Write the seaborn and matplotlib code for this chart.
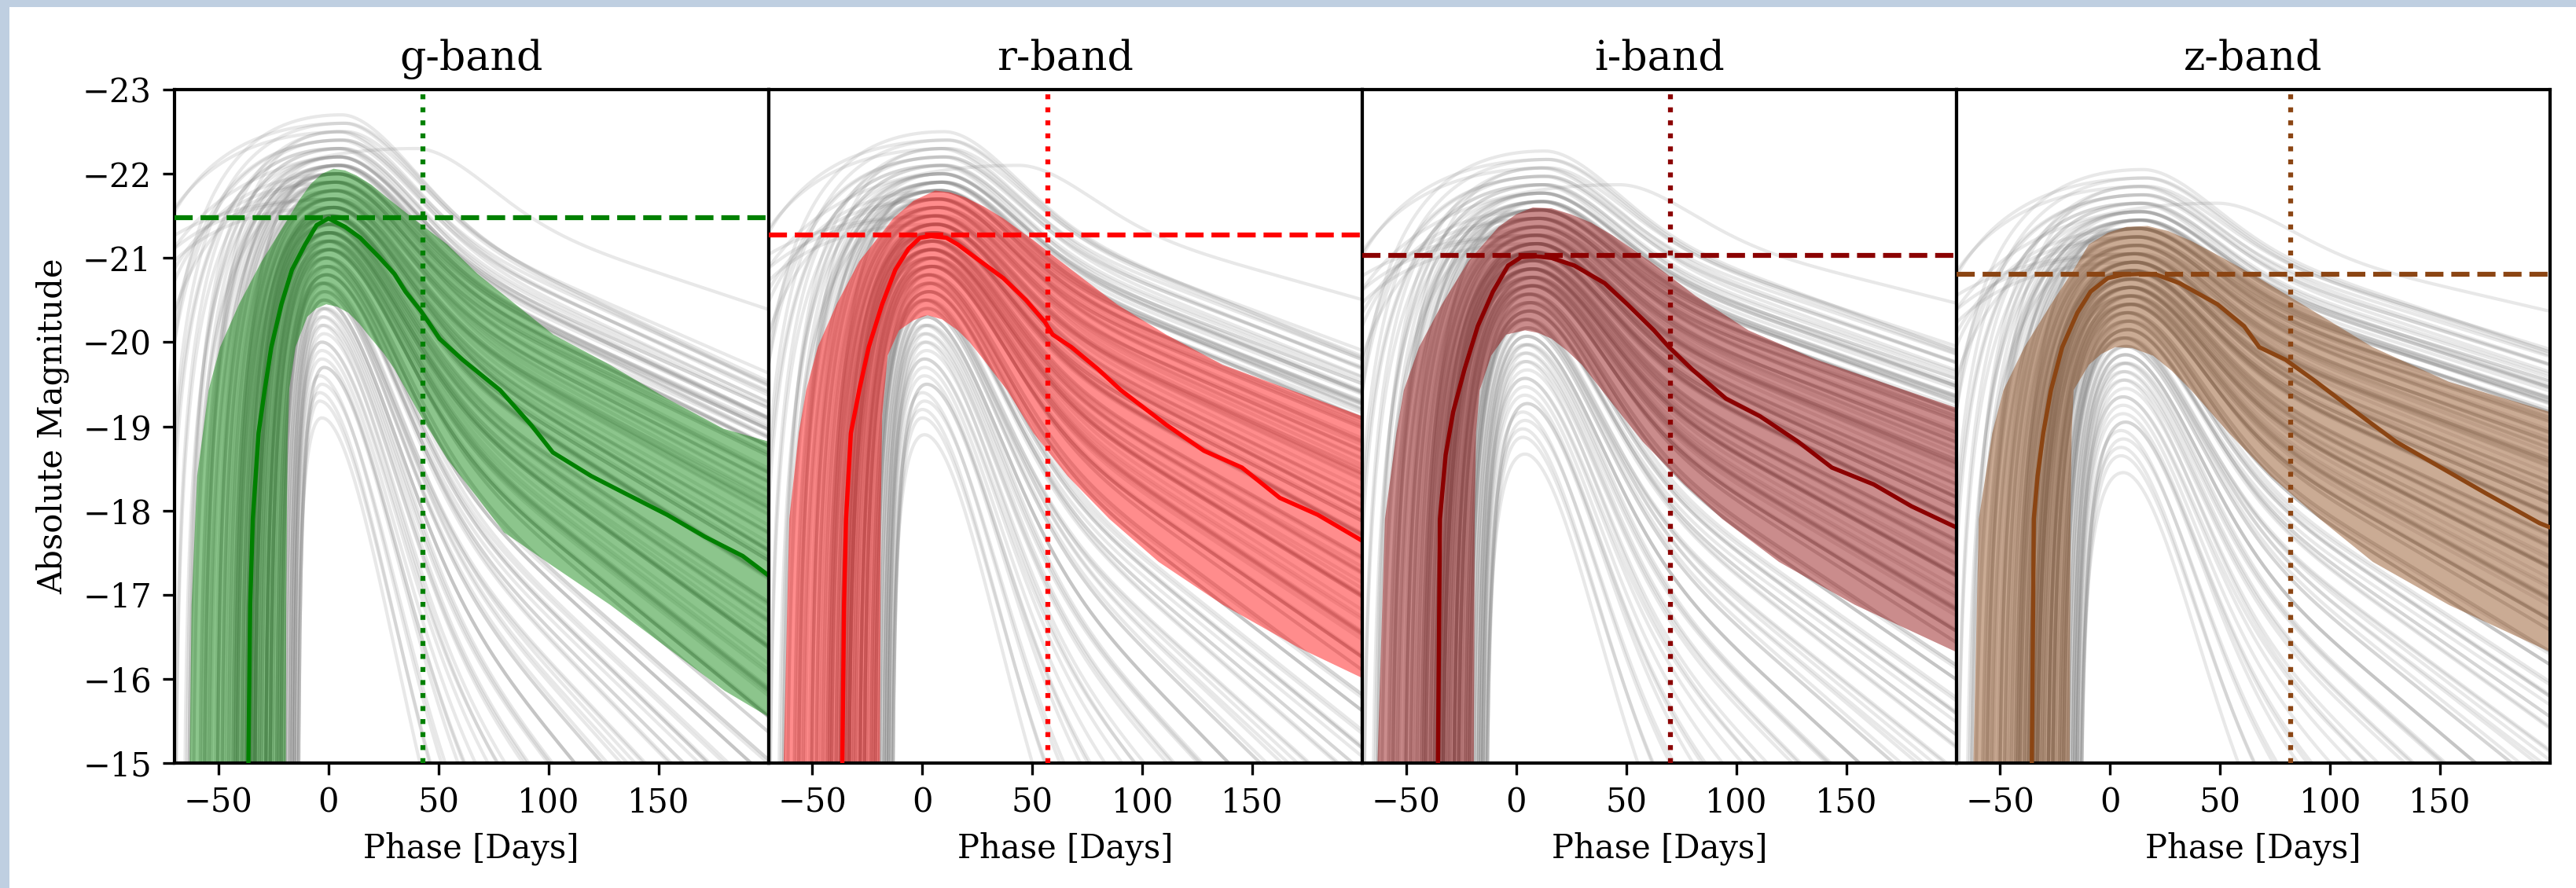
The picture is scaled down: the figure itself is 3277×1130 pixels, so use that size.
import numpy as np
import pandas as pd
import matplotlib
matplotlib.use("Agg")
import matplotlib.pyplot as plt
import seaborn as sns
from matplotlib.patches import Rectangle

# ------------------------------------------------------------------ data
band_titles = ["g-band", "r-band", "i-band", "z-band"]
band_colors = ["green", "red", "darkred", "saddlebrown"]
peak_mag_line = [-21.48, -21.27, -21.03, -20.81]
phase_line = [42.8, 57.0, 70.0, 82.0]

x_ticks = [-50, 0, 50, 100, 150]
y_ticks = [-23, -22, -21, -20, -19, -18, -17, -16, -15]

# median light curves
g_med_phase = [-36.6, -36.4, -35.6, -34.4, -31.8, -29.0, -26.0, -21.4, -16.6, -10.6, -5.4, 0.0, 7.5, 14.4, 23.0,
               30.0, 35.0, 42.0, 45.4, 50.5, 61.0, 78.0, 92.0, 102.0, 119.4, 136.6, 153.9, 171.0, 188.3, 200.0]
g_med_mag = [-14.8, -15.0, -16.88, -17.9, -18.92, -19.43, -19.94, -20.45, -20.86, -21.16, -21.39, -21.47, -21.37,
             -21.24, -21.01, -20.81, -20.6, -20.37, -20.24, -20.04, -19.79, -19.43, -19.02, -18.69, -18.41, -18.18,
             -17.95, -17.69, -17.46, -17.23]
r_med_phase = [-36.6, -36.4, -35.6, -34.7, -32.5, -28.7, -24.4, -18.3, -12.3, -6.3, -1.1, 4.0, 10.9, 16.1, 26.4,
               36.8, 47.1, 55.7, 59.2, 67.8, 79.8, 90.2, 110.8, 128.0, 145.3, 162.5, 179.7, 200.0]
r_med_mag = [-14.8, -15.0, -16.88, -17.9, -18.92, -19.43, -19.94, -20.45, -20.86, -21.11, -21.24, -21.26, -21.24,
             -21.16, -20.96, -20.76, -20.5, -20.24, -20.09, -19.94, -19.68, -19.43, -19.02, -18.71, -18.51, -18.15,
             -17.95, -17.64]
i_med_phase = [-35.8, -35.6, -34.7, -32.1, -28.7, -23.5, -17.5, -10.6, -3.7, 2.3, 9.2, 16.1, 26.4, 40.2, 50.5,
               62.6, 69.5, 79.8, 95.3, 110.8, 128.0, 143.5, 162.5, 179.7, 200.0]
i_med_mag = [-14.8, -15.0, -17.9, -18.66, -19.17, -19.68, -20.19, -20.6, -20.91, -21.01, -21.02, -21.0, -20.91,
             -20.7, -20.45, -20.14, -19.94, -19.68, -19.33, -19.12, -18.82, -18.51, -18.31, -18.05, -17.8]
z_med_phase = [-35.8, -35.6, -34.7, -33.0, -30.4, -26.9, -21.8, -14.9, -8.9, -1.1, 5.8, 13.5, 21.3, 31.6, 48.8,
               60.9, 67.8, 79.8, 93.6, 114.3, 129.8, 150.4, 171.1, 195.2, 200.0]
z_med_mag = [-14.8, -15.0, -17.9, -18.41, -18.92, -19.43, -19.94, -20.35, -20.6, -20.76, -20.8, -20.81, -20.8,
             -20.7, -20.45, -20.19, -19.94, -19.79, -19.53, -19.12, -18.82, -18.51, -18.2, -17.85, -17.8]

# bright edge of the shaded band
g_hi_phase = [-63.3, -63.1, -62.25, -59.7, -54.5, -49.3, -40.7, -30.4, -18.3, -13.0, -8.0, -3.0, 2.3, 7.5, 12.7,
              19.5, 26.4, 38.5, 54.0, 67.8, 85.0, 102.2, 128.0, 153.9, 179.7, 200.0]
g_hi_mag = [-14.0, -15.0, -16.88, -18.41, -19.43, -19.94, -20.45, -20.96, -21.47, -21.70, -21.88, -22.0, -22.06,
            -22.04, -21.98, -21.87, -21.72, -21.47, -21.16, -20.81, -20.45, -20.09, -19.73, -19.33, -18.97, -18.82]
r_hi_phase = [-63.3, -63.1, -60.5, -56.2, -52.8, -47.6, -39.0, -28.7, -13.2, -4.0, 5.8, 12.5, 19.5, 28.0, 36.8,
              50.5, 67.8, 88.4, 110.8, 136.6, 167.6, 200.0]
r_hi_mag = [-14.0, -15.0, -17.9, -18.92, -19.43, -19.94, -20.45, -20.96, -21.47, -21.68, -21.8, -21.78, -21.72,
            -21.61, -21.47, -21.21, -20.86, -20.45, -20.09, -19.73, -19.43, -19.12]
i_hi_phase = [-63.3, -63.1, -59.7, -54.5, -51.1, -44.2, -33.8, -21.8, -8.0, 0.0, 7.5, 16.0, 24.7, 34.0, 43.7,
              60.9, 81.5, 105.6, 136.6, 171.1, 200.0]
i_hi_mag = [-14.0, -15.0, -17.9, -18.92, -19.43, -19.94, -20.45, -20.96, -21.37, -21.52, -21.6, -21.59, -21.52,
            -21.42, -21.27, -20.96, -20.55, -20.14, -19.79, -19.48, -19.22]
z_hi_phase = [-62.4, -62.2, -59.7, -53.6, -48.5, -39.0, -26.9, -16.6, -9.7, -1.0, 7.5, 17.0, 26.4, 37.0, 47.1,
              67.8, 93.6, 119.4, 153.9, 200.0]
z_hi_mag = [-14.0, -15.0, -17.9, -18.92, -19.43, -19.94, -20.45, -20.86, -21.16, -21.3, -21.37, -21.38, -21.32,
            -21.2, -21.06, -20.76, -20.35, -19.94, -19.53, -19.17]

# faint edge of the shaded band
g_lo_phase = [-19.4, -19.2, -18.6, -17.8, -15.0, -9.7, -5.5, -1.0, 4.0, 9.0, 14.0, 19.5, 25.0, 30.0, 36.0, 42.0,
              54.0, 67.8, 79.8, 102.0, 128.0, 154.0, 180.0, 200.0]
g_lo_mag = [-14.0, -17.0, -18.8, -19.45, -19.94, -20.3, -20.40, -20.45, -20.42, -20.35, -20.22, -20.04, -19.87,
            -19.68, -19.40, -19.12, -18.61, -18.15, -17.74, -17.34, -16.88, -16.37, -15.86, -15.55]
r_lo_phase = [-19.4, -18.9, -18.3, -15.8, -10.6, -4.0, 2.3, 9.0, 16.1, 21.5, 26.4, 38.5, 50.5, 66.0, 85.0, 107.4,
              136.6, 171.1, 200.0]
r_lo_mag = [-14.0, -17.9, -19.12, -19.84, -20.14, -20.26, -20.32, -20.27, -20.14, -20.0, -19.84, -19.43, -18.92,
            -18.41, -17.9, -17.39, -16.88, -16.37, -16.01]
i_lo_phase = [-19.4, -18.9, -18.3, -16.6, -11.4, -4.6, 4.0, 10.0, 16.1, 23.0, 29.9, 41.9, 57.4, 76.4, 93.6, 119.4,
              153.9, 200.0]
i_lo_mag = [-14.0, -17.9, -18.92, -19.43, -19.84, -20.09, -20.14, -20.11, -20.04, -19.9, -19.73, -19.33, -18.82,
            -18.31, -17.9, -17.39, -16.88, -16.32]
z_lo_phase = [-18.5, -18.0, -17.5, -16.6, -9.7, -4.0, 2.3, 10.0, 19.5, 28.0, 36.8, 54.0, 72.9, 95.3, 119.4, 153.9,
              200.0]
z_lo_mag = [-14.0, -17.9, -18.92, -19.43, -19.73, -19.86, -19.94, -19.93, -19.84, -19.66, -19.43, -18.92, -18.41,
            -17.9, -17.39, -16.88, -16.32]

# individual objects (grey curves): g-band peak magnitude, peak phase, rise time, decline factor
obj_peak_mag = [
    -21.6, -21.1, -22.3, -20.8, -21.4, -19.6, -21.9, -21.2, -20.6, -22.0,
    -21.3, -21.7, -20.2, -21.5, -22.5, -21.0, -20.9, -21.8, -19.2, -21.4,
    -22.1, -20.7, -21.5, -21.2, -20.4, -21.9, -21.6, -19.9, -22.2, -21.0,
    -20.5, -21.3, -22.6, -21.7, -20.9, -21.4, -20.0, -21.8, -21.1, -22.4,
    -21.5, -19.4, -21.2, -22.0, -20.8, -22.2, -21.3, -20.3, -21.9, -21.0,
    -22.2, -20.6, -21.4, -21.7, -19.8, -21.1, -22.1, -20.9, -21.5, -21.2,
    -20.7, -21.8, -21.3, -22.4, -20.1, -21.6, -21.0, -21.9, -19.5, -21.4,
    -21.7, -20.4, -22.0, -21.1, -21.5, -20.8, -22.3, -21.2, -20.6, -21.6,
    -19.0, -21.9, -21.3, -20.9, -22.1, -21.4, -20.5, -21.8, -21.0, -22.0,
    -21.2, -20.3, -21.6, -22.5, -21.1, -19.7, -21.5, -20.7, -21.8, -22.1,
    -21.4, -20.9, -21.8, -21.2, -20.6, -21.5, -22.0, -21.1, -19.9, -21.6,
    -21.3, -22.2, -20.8, -21.0, -21.7, -20.4, -21.5, -21.9, -21.2, -20.7,
    -22.3, -21.4, -20.2, -21.1, -21.8, -21.3, -19.6, -21.6, -22.1, -21.0,
    -20.9, -21.5, -21.7, -20.5, -22.4, -21.2, -21.4, -20.8, -21.9, -21.3,
    -21.1, -20.3, -21.6, -22.0, -21.4, -20.6, -21.8, -21.2, -19.3, -21.5,
    -21.0, -22.2, -21.3, -20.7, -21.6, -21.9, -20.1, -21.4, -21.7, -22.0,
]
obj_peak_phase = [
    2, -1, 5, 0, 3, -2, 4, 1, -3, 6,
    0, 4, -2, 2, 8, 1, -1, 3, -4, 2,
    5, 0, 3, 1, -2, 4, 6, -3, 7, 0,
    -1, 2, 6, 3, 0, 1, -2, 5, 2, 4,
    3, -3, 0, 5, 1, 40, 2, -1, 4, 1,
    4, -2, 1, 3, -3, 0, 5, -1, 2, 1,
    -1, 3, 1, 6, -2, 2, 0, 5, -4, 1,
    3, -2, 4, 0, 2, -1, 7, 1, -3, 3,
    -3, 4, 1, 0, 5, 2, -2, 3, 0, 4,
    1, -2, 3, 7, 0, -3, 2, -1, 4, 5,
    1, -2, 4, 0, -1, 3, 5, 2, -3, 1,
    0, 6, -1, 2, 4, -2, 3, 5, 0, -1,
    7, 2, -3, 1, 4, 0, -2, 3, 6, 1,
    -1, 2, 5, -2, 8, 0, 3, -1, 4, 2,
    1, -3, 3, 6, 0, -2, 4, 2, -4, 3,
    0, 5, 1, -1, 2, 4, -3, 1, 3, 6,
]
obj_rise_days = [
    42, 31, 75, 24, 37, 12, 58, 33, 18, 49,
    35, 68, 14, 40, 110, 28, 21, 52, 10, 38,
    64, 26, 45, 30, 16, 55, 130, 13, 72, 34,
    19, 36, 85, 47, 27, 41, 15, 95, 32, 60,
    39, 11, 29, 57, 23, 150, 36, 17, 66, 30,
    78, 20, 43, 50, 13, 34, 62, 25, 120, 38,
    22, 54, 37, 70, 14, 46, 31, 100, 11, 40,
    48, 16, 61, 33, 44, 26, 88, 35, 19, 140,
    12, 53, 39, 24, 67, 36, 18, 58, 29, 46,
    32, 15, 43, 82, 28, 13, 37, 21, 105, 56,
    36, 25, 50, 33, 20, 41, 63, 29, 14, 45,
    38, 70, 23, 31, 47, 17, 39, 56, 34, 22,
    90, 37, 15, 30, 52, 35, 12, 44, 76, 28,
    26, 40, 48, 18, 115, 32, 43, 24, 59, 36,
    30, 16, 46, 65, 38, 21, 53, 33, 11, 42,
    29, 80, 35, 23, 44, 61, 14, 37, 49, 72,
]
obj_decline = [
    0.9, 1.3, 0.74, 1.6, 1.0, 2.6, 0.8, 1.1, 1.9, 0.8,
    1.2, 0.75, 2.2, 0.95, 0.77, 1.4, 1.5, 0.85, 3.0, 1.05,
    0.77, 1.7, 1.0, 1.25, 2.0, 0.8, 0.9, 2.4, 0.8, 1.35,
    1.8, 1.15, 0.8, 0.85, 1.45, 1.0, 2.3, 0.8, 1.3, 0.74,
    0.95, 2.8, 1.2, 0.8, 1.55, 0.55, 1.1, 2.1, 0.75, 1.4,
    0.8, 1.85, 1.05, 0.9, 2.5, 1.3, 0.77, 1.5, 0.85, 1.2,
    1.65, 0.8, 1.15, 0.78, 2.2, 0.95, 1.35, 0.74, 2.9, 1.0,
    0.85, 2.0, 0.8, 1.25, 1.0, 1.6, 0.78, 1.2, 1.75, 0.8,
    3.3, 0.75, 1.1, 1.45, 0.74, 1.05, 1.9, 0.8, 1.35, 0.77,
    1.2, 2.1, 0.9, 0.78, 1.3, 2.6, 1.0, 1.7, 0.75, 0.74,
    1.0, 1.45, 0.85, 1.15, 1.8, 0.95, 0.78, 1.25, 2.3, 0.9,
    1.1, 0.75, 1.55, 1.3, 0.88, 2.0, 1.0, 0.8, 1.2, 1.65,
    0.75, 1.05, 2.2, 1.3, 0.85, 1.15, 2.7, 0.92, 0.77, 1.35,
    1.5, 1.0, 0.86, 1.9, 0.72, 1.2, 1.05, 1.6, 0.82, 1.1,
    1.3, 2.1, 0.9, 0.78, 1.05, 1.75, 0.84, 1.2, 3.1, 0.98,
    1.35, 0.76, 1.15, 1.6, 0.92, 0.8, 2.4, 1.05, 0.88, 0.75,
]
# per-band adjustments of the objects
band_mag_offset = [-0.1, 0.1, 0.33, 0.55]
band_peak_shift = [0.0, 4.0, 7.0, 9.0]
band_decline_scale = [1.0, 0.85, 0.76, 0.7]

# ------------------------------------------------------------------ light-curve model for grey curves
RISE_K, E0, TAU, L0, W = 2.0, 1.2, 45.0, 0.016, 20.0
phase_grid = np.linspace(-70, 200, 541)


def light_curve(t, mp, tp, rise, dec):
    te = tp - rise
    m = np.full_like(t, -10.0)
    up = (t > te) & (t <= tp)
    x = (t[up] - te) / rise
    m[up] = mp + RISE_K * (x - 1.0 - np.log(x))
    dn = t > tp
    s = t[dn] - tp
    m[dn] = mp + dec * (E0 * (1 - np.exp(-(s / TAU) ** 2)) + L0 * s ** 2 / (s + W))
    return np.minimum(m, -10.0)


rows = []
for b in range(4):
    for k in range(len(obj_peak_mag)):
        mags = light_curve(phase_grid,
                           obj_peak_mag[k] + band_mag_offset[b],
                           obj_peak_phase[k] + band_peak_shift[b],
                           obj_rise_days[k] + band_peak_shift[b],
                           obj_decline[k] * band_decline_scale[b])
        rows.append(pd.DataFrame({"band": b, "obj": k, "phase": phase_grid, "mag": mags}))
grey_df = pd.concat(rows, ignore_index=True)

med_data = [(g_med_phase, g_med_mag), (r_med_phase, r_med_mag), (i_med_phase, i_med_mag), (z_med_phase, z_med_mag)]
hi_data = [(g_hi_phase, g_hi_mag), (r_hi_phase, r_hi_mag), (i_hi_phase, i_hi_mag), (z_hi_phase, z_hi_mag)]
lo_data = [(g_lo_phase, g_lo_mag), (r_lo_phase, r_lo_mag), (i_lo_phase, i_lo_mag), (z_lo_phase, z_lo_mag)]

# ------------------------------------------------------------------ figure
plt.rcParams.update({
    "font.family": ["DejaVu Serif"],
    "axes.linewidth": 1.0,
    "xtick.labelsize": 10,
    "ytick.labelsize": 10,
    "axes.labelsize": 10,
    "axes.titlesize": 12.5,
})

W_PX, H_PX, DPI = 3277, 1130, 300
fig = plt.figure(figsize=(W_PX / DPI, H_PX / DPI), dpi=DPI, facecolor="#bfcfe1")
fig.patches.append(Rectangle((12 / W_PX, 0), 1 - 12 / W_PX, 1 - 9 / H_PX, transform=fig.transFigure,
                             facecolor="white", edgecolor="none", zorder=-10))
axes = fig.subplots(1, 4, sharey=True)
fig.subplots_adjust(left=222 / W_PX, right=3244 / W_PX, top=1 - 114 / H_PX, bottom=1 - 971 / H_PX, wspace=0)

for b, ax in enumerate(axes):
    c = band_colors[b]
    sub = grey_df[grey_df["band"] == b]
    sns.lineplot(data=sub, x="phase", y="mag", units="obj", estimator=None, color="grey",
                 alpha=0.18, linewidth=1.0, ax=ax, legend=False, zorder=1)
    hp, hm = hi_data[b]
    lp, lm = lo_data[b]
    ax.fill(np.r_[hp, lp[::-1]], np.r_[hm, lm[::-1]], color=c, alpha=0.45, lw=0, zorder=2)
    mp_, mm_ = med_data[b]
    sns.lineplot(x=mp_, y=mm_, sort=False, estimator=None, color=c, linewidth=1.3, ax=ax, zorder=3)
    ax.axhline(peak_mag_line[b], color=c, ls="--", lw=1.5, zorder=4)
    ax.axvline(phase_line[b], color=c, ls=":", lw=1.5, zorder=4)

    ax.set_xlim(-70, 200)
    ax.set_xticks(x_ticks)
    ax.set_title(band_titles[b])
    ax.set_xlabel("Phase [Days]")
    ax.set_ylabel("")
    for sp in ax.spines.values():
        sp.set_color("black")
    if b > 0:
        ax.tick_params(axis="y", left=False, labelleft=False)

axes[0].set_ylim(-15, -23)
axes[0].set_yticks(y_ticks)
axes[0].set_ylabel("Absolute Magnitude")

fig.savefig("out.png", dpi=DPI, facecolor=fig.get_facecolor())
